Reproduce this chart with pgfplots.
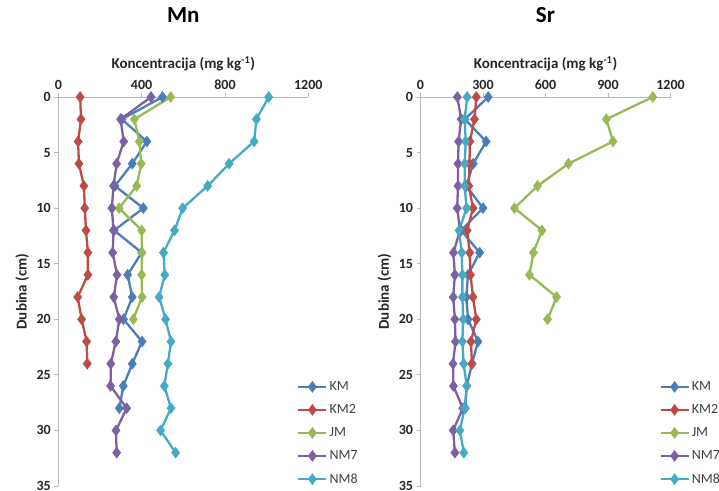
\documentclass[border=0pt]{standalone}
\usepackage{fontspec}
\setmainfont{Carlito}
\usepackage{pgfplots}
\pgfplotsset{compat=1.18}
\definecolor{cKM}{HTML}{4A7EBB}
\definecolor{cKMb}{HTML}{BE4B48}
\definecolor{cJM}{HTML}{98B954}
\definecolor{cNMs}{HTML}{7D60A0}
\definecolor{cNMe}{HTML}{46AAC5}
\pgfplotsset{
  prof/.style={
    scale only axis, width=250pt, height=389pt,
    xmin=0, xmax=1200, ymin=0, ymax=35, y dir=reverse,
    axis x line*=top, axis y line*=left,
    axis line style={gray!55, line width=0.8pt},
    tick style={gray!55, line width=0.8pt},
    tick align=outside, major tick length=4pt,
    ytick={0,5,...,35},
    /pgf/number format/assume math mode=true,
    /pgf/number format/set thousands separator={},
    ticklabel style={font=\bfseries\fontsize{14}{15}\selectfont, text=black!85},
    xlabel={Koncentracija (mg kg\textsuperscript{-1})},
    xlabel style={at={(axis description cs:0.5,1.072)}, anchor=base, font=\bfseries\fontsize{15}{16}\selectfont, text=black!85},
    ylabel={Dubina (cm)},
    ylabel style={at={(axis description cs:-0.144,0.5)}, anchor=center, font=\bfseries\fontsize{15}{16}\selectfont, text=black!85},
    title style={at={(axis description cs:0.5,1.177)}, anchor=base, font=\bfseries\fontsize{23}{26}\selectfont},
    legend style={at={(axis description cs:0.955,0.274)}, anchor=north west, draw=none, fill=none,
      font=\fontsize{14}{15}\selectfont, text=black!75, row sep=8.5pt, inner sep=0pt},
    legend cell align=left,
    legend image code/.code={\draw[mark repeat=2,mark phase=2,#1] plot coordinates {(0pt,0pt) (14pt,0pt) (28pt,0pt)};},
    every axis plot/.append style={line width=2.3pt, mark=diamond*, mark size=4pt, mark options={solid}},
  },
  sKM/.style={color=cKM},
  sKMb/.style={color=cKMb},
  sJM/.style={color=cJM},
  sNMs/.style={color=cNMs},
  sNMe/.style={color=cNMe},
}
\begin{document}
\begin{tikzpicture}[x=1pt,y=1pt]
\path[use as bounding box] (0,0) rectangle (719,490);
% ---------------- Mn ----------------
\begin{axis}[prof, at={(58.3pt,4pt)}, anchor=south west, title={Mn}, xtick={0,400,800,1200}]
\addplot[sKM] coordinates {(500,0) (305,2) (425,4) (355,6) (272,8) (408,10) (268,12) (400,14) (333,16) (355,18) (313,20) (402,22) (355,24) (312,26) (293,28)};
\addlegendentry{KM}
\addplot[sKMb] coordinates {(105,0) (109,2) (95,4) (99,6) (123,8) (127,10) (133,12) (142,14) (142,16) (93,18) (112,20) (136,22) (139,24)};
\addlegendentry{KM2}
\addplot[sJM] coordinates {(540,0) (365,2) (389,4) (398,6) (376,8) (292,10) (400,12) (402,14) (400,16) (402,18) (360,20)};
\addlegendentry{JM}
\addplot[sNMs] coordinates {(445,0) (299,2) (314,4) (280,6) (265,8) (257,10) (265,12) (261,14) (282,16) (266,18) (293,20) (276,22) (252,24) (251,26) (328,28) (277,30) (280,32)};
\addlegendentry{NM7}
\addplot[sNMe] coordinates {(1010,0) (951,2) (940,4) (820,6) (717,8) (597,10) (558,12) (505,14) (511,16) (484,18) (515,20) (541,22) (526,24) (509,26) (541,28) (491,30) (563,32)};
\addlegendentry{NM8}
\end{axis}
% ---------------- Sr ----------------
\begin{axis}[prof, at={(420.5pt,4pt)}, anchor=south west, title={Sr}, xtick={0,300,600,900,1200}]
\addplot[sKM] coordinates {(325,0) (213,2) (315,4) (253,6) (220,8) (300,10) (195,12) (284,14) (228,16) (220,18) (228,20) (276,22) (247,24) (222,26) (215,28)};
\addlegendentry{KM}
\addplot[sKMb] coordinates {(268,0) (259,2) (237,4) (235,6) (232,8) (252,10) (224,12) (236,14) (240,16) (252,18) (268,20) (242,22) (247,24)};
\addlegendentry{KM2}
\addplot[sJM] coordinates {(1115,0) (892,2) (924,4) (710,6) (562,8) (451,10) (583,12) (542,14) (523,16) (653,18) (610,20)};
\addlegendentry{JM}
\addplot[sNMs] coordinates {(177,0) (195,2) (183,4) (180,6) (180,8) (176,10) (190,12) (158,14) (165,16) (157,18) (165,20) (168,22) (156,24) (158,26) (203,28) (157,30) (165,32)};
\addlegendentry{NM7}
\addplot[sNMe] coordinates {(224,0) (212,2) (217,4) (212,6) (212,8) (221,10) (185,12) (198,14) (201,16) (201,18) (205,20) (201,22) (207,24) (222,26) (212,28) (189,30) (208,32)};
\addlegendentry{NM8}
\end{axis}
\end{tikzpicture}
\end{document}
